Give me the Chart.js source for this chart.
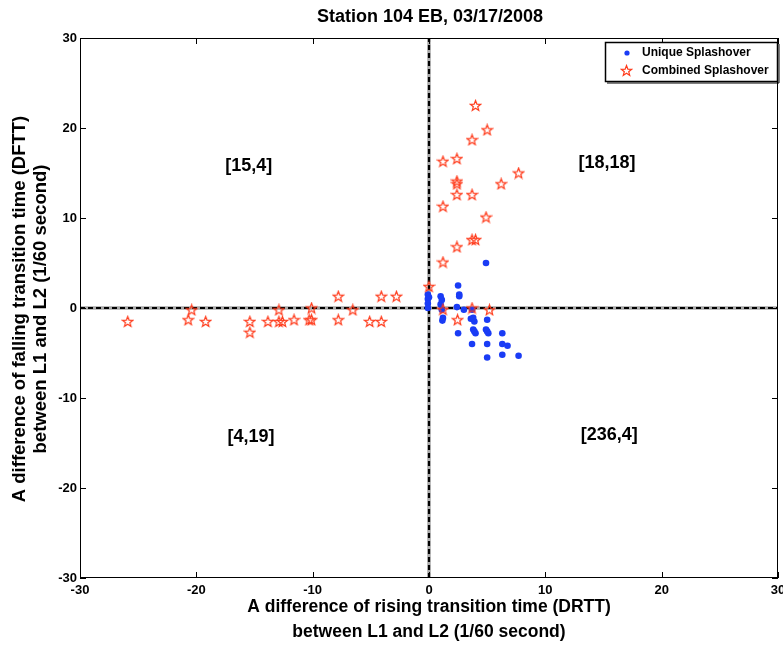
<!DOCTYPE html>
<html>
<head>
<meta charset="utf-8">
<script src="https://cdn.jsdelivr.net/npm/chart.js@4.4.0/dist/chart.umd.min.js"></script>
<style>
html,body{margin:0;padding:0;background:#fff;}
#wrap{width:783px;height:646px;}
</style>
</head>
<body>
<div id="wrap"><canvas id="c" width="783" height="646"></canvas></div>
<script>
const chartTitle = 'Station 104 EB, 03/17/2008';
const xTitle = ['A difference of rising transition time (DRTT)', 'between L1 and L2 (1/60 second)'];
const yTitle = ['A difference of falling transition time (DFTT)', 'between L1 and L2 (1/60 second)'];
const seriesNames = ['Unique Splashover', 'Combined Splashover'];
const tickValues = [-30, -20, -10, 0, 10, 20, 30];
const quadrantLabels = ['[15,4]', '[18,18]', '[4,19]', '[236,4]'];

// Unique Splashover (blue dots): [DRTT, DFTT]
const uniqueX = [-0.1,-0.1,-0.1,-0.1,0.0, 1.0,1.1,1.0,1.1, 2.6,2.6,2.4,2.5,4.9, 3.0,3.7, 1.15,1.2, 3.6,3.9,3.8, 5.0, 2.5, 3.8,4.0,3.9, 4.9,5.1,5.0, 6.3, 3.7,5.0,6.3,6.75, 5.0,6.3,7.7];
const uniqueY = [1.5,1.0,0.5,0.0,1.2, 1.3,0.9,0.4,-0.2, 1.3,1.5,0.1,2.5,5.0, -0.2,-0.2, -1.4,-1.1, -1.2,-1.5,-1.1, -1.3, -2.8, -2.4,-2.8,-2.6, -2.4,-2.8,-2.6, -2.8, -4.0,-4.0,-4.0,-4.2, -5.5,-5.2,-5.3];

// Combined Splashover (red stars): [DRTT, DFTT]
const combinedX = [4.0,5.0,3.7,1.2,2.4,7.7,2.4,2.4,6.2,2.4,3.7,1.2,4.9,3.7,4.0,2.4,1.2,0.0,
  1.2,3.7,5.2,2.45,
  -25.9,-20.4,-20.7,-19.2,-15.4,-15.4,-13.85,-12.9,-12.9,-12.6,-11.6,-10.3,-10.1,-10.1,-7.8,-7.8,-6.55,-5.1,-4.1,-4.1,-2.8];
const combinedY = [22.5,19.8,18.7,16.3,16.6,15.0,14.1,13.8,13.8,12.6,12.6,11.3,10.1,7.6,7.6,6.8,5.1,2.4,
  -0.15,0.0,-0.2,-1.3,
  -1.5,-0.2,-1.3,-1.5,-1.5,-2.7,-1.5,-0.2,-1.5,-1.5,-1.3,-1.3,-1.3,0.0,1.3,-1.3,-0.2,-1.5,1.3,-1.5,1.3];

const BLUE = '#1a3cf5';
const RED = '#ff3a1a';

function makeStar(size, color) {
  const c = document.createElement('canvas');
  c.width = size; c.height = size;
  const g = c.getContext('2d');
  const cx = size / 2, cy = size / 2 + 0.5, R = size / 2 - 1, r = R * 0.42;
  g.beginPath();
  for (let i = 0; i < 10; i++) {
    const ang = -Math.PI / 2 + i * Math.PI / 5;
    const rad = i % 2 === 0 ? R : r;
    const px = cx + rad * Math.cos(ang), py = cy + rad * Math.sin(ang);
    if (i === 0) g.moveTo(px, py); else g.lineTo(px, py);
  }
  g.closePath();
  g.strokeStyle = color;
  g.lineWidth = 1.2;
  g.stroke();
  return c;
}
const starImg = makeStar(13, RED);

const FONT = '"Liberation Sans", Arial, Helvetica, sans-serif';

const decor = {
  id: 'decor',
  afterDraw(chart) {
    const ctx = chart.ctx;
    const a = chart.chartArea;
    const xs = chart.scales.x, ys = chart.scales.y;
    ctx.save();
    // box
    ctx.strokeStyle = '#000';
    ctx.lineWidth = 1;
    ctx.strokeRect(a.left + 0.5, a.top + 0.5, a.right - a.left - 1, a.bottom - a.top - 1);
    // inner ticks
    const tl = 6;
    ctx.beginPath();
    tickValues.forEach(v => {
      const px = Math.round(xs.getPixelForValue(v)) + 0.5;
      ctx.moveTo(px, a.bottom); ctx.lineTo(px, a.bottom - tl);
      ctx.moveTo(px, a.top); ctx.lineTo(px, a.top + tl);
      const py = Math.round(ys.getPixelForValue(v)) + 0.5;
      ctx.moveTo(a.left, py); ctx.lineTo(a.left + tl, py);
      ctx.moveTo(a.right, py); ctx.lineTo(a.right - tl, py);
    });
    ctx.stroke();

    // title
    ctx.fillStyle = '#000';
    ctx.textAlign = 'center';
    ctx.textBaseline = 'middle';
    ctx.font = 'bold 18px ' + FONT;
    ctx.fillText(chartTitle, 430, 17);
    // x title
    ctx.font = 'bold 17.5px ' + FONT;
    ctx.fillText(xTitle[0], 429, 607);
    ctx.fillText(xTitle[1], 429, 632);
    // y title
    ctx.save();
    ctx.translate(20, 309);
    ctx.rotate(-Math.PI / 2);
    ctx.font = 'bold 18.5px ' + FONT;
    ctx.fillText(yTitle[0], 0, 0);
    ctx.fillText(yTitle[1], 0, 21);
    ctx.restore();

    // quadrant labels (anchored in data coordinates)
    const qAnchors = [[-15.5, 15.8], [15.3, 16.1], [-15.3, -14.3], [15.5, -14.1]];
    ctx.font = 'bold 18px ' + FONT;
    quadrantLabels.forEach((t, i) => {
      ctx.fillText(t, xs.getPixelForValue(qAnchors[i][0]), ys.getPixelForValue(qAnchors[i][1]));
    });

    // legend
    const lx = 605, ly = 42, lw = 172, lh = 39;
    ctx.fillStyle = '#fff';
    ctx.fillRect(lx, ly, lw, lh);
    ctx.strokeStyle = '#000';
    ctx.lineWidth = 1.5;
    ctx.strokeRect(lx + 0.5, ly + 0.5, lw, lh);
    ctx.lineWidth = 1;
    ctx.beginPath();
    ctx.moveTo(lx + 2, ly + lh + 2); ctx.lineTo(lx + lw + 2, ly + lh + 2); ctx.lineTo(lx + lw + 2, ly + 2);
    ctx.stroke();
    ctx.fillStyle = BLUE;
    ctx.beginPath(); ctx.arc(627, 53, 2.6, 0, Math.PI * 2); ctx.fill();
    ctx.drawImage(starImg, 620, 64);
    ctx.fillStyle = '#000';
    ctx.textAlign = 'left';
    ctx.font = 'bold 12px ' + FONT;
    ctx.fillText(seriesNames[0], 642, 53);
    ctx.fillText(seriesNames[1], 642, 71);
    ctx.restore();
  }
};

new Chart(document.getElementById('c'), {
  type: 'scatter',
  data: {
    datasets: [
      {
        label: seriesNames[1],
        data: combinedX.map((x, i) => ({ x: x, y: combinedY[i] })),
        pointStyle: starImg,
        pointRadius: 6,
        order: 0
      },
      {
        label: seriesNames[0],
        data: uniqueX.map((x, i) => ({ x: x, y: uniqueY[i] })),
        pointStyle: 'circle',
        pointRadius: 3.3,
        backgroundColor: BLUE,
        borderColor: BLUE,
        borderWidth: 0,
        order: 1
      },
      {
        type: 'line', label: 'v0',
        data: [{ x: 0, y: -30 }, { x: 0, y: 30 }],
        borderColor: '#000', borderWidth: 2.2, borderDash: [5, 3],
        pointRadius: 0, order: 2
      },
      {
        type: 'line', label: 'h0',
        data: [{ x: -30, y: 0 }, { x: 30, y: 0 }],
        borderColor: '#000', borderWidth: 2.2, borderDash: [5, 3],
        pointRadius: 0, order: 2
      },
      {
        type: 'line', label: 'v0bg',
        data: [{ x: 0, y: -30 }, { x: 0, y: 30 }],
        borderColor: '#a8a8a8', borderWidth: 3.5,
        pointRadius: 0, order: 3
      },
      {
        type: 'line', label: 'h0bg',
        data: [{ x: -30, y: 0 }, { x: 30, y: 0 }],
        borderColor: '#a8a8a8', borderWidth: 3.5,
        pointRadius: 0, order: 3
      }
    ]
  },
  options: {
    responsive: false,
    animation: false,
    layout: { autoPadding: false, padding: { top: 38, right: 5, left: 0, bottom: 0 } },
    plugins: { legend: { display: false }, tooltip: { enabled: false }, title: { display: false } },
    scales: {
      x: {
        type: 'linear', min: -30, max: 30,
        afterFit(s) { s.height = 68; s.paddingLeft = 0; s.paddingRight = 0; },
        afterBuildTicks(s) { s.ticks = tickValues.map(v => ({ value: v })); },
        grid: { display: false, drawTicks: false },
        border: { display: false },
        ticks: { color: '#000', font: { family: FONT, size: 13, weight: 'bold' }, padding: 5, maxRotation: 0 }
      },
      y: {
        type: 'linear', min: -30, max: 30,
        afterFit(s) { s.width = 80; s.paddingTop = 0; s.paddingBottom = 0; },
        afterBuildTicks(s) { s.ticks = tickValues.map(v => ({ value: v })); },
        grid: { display: false, drawTicks: false },
        border: { display: false },
        ticks: { color: '#000', font: { family: FONT, size: 13, weight: 'bold' }, padding: 3 }
      }
    }
  },
  plugins: [decor]
});
</script>
</body>
</html>
